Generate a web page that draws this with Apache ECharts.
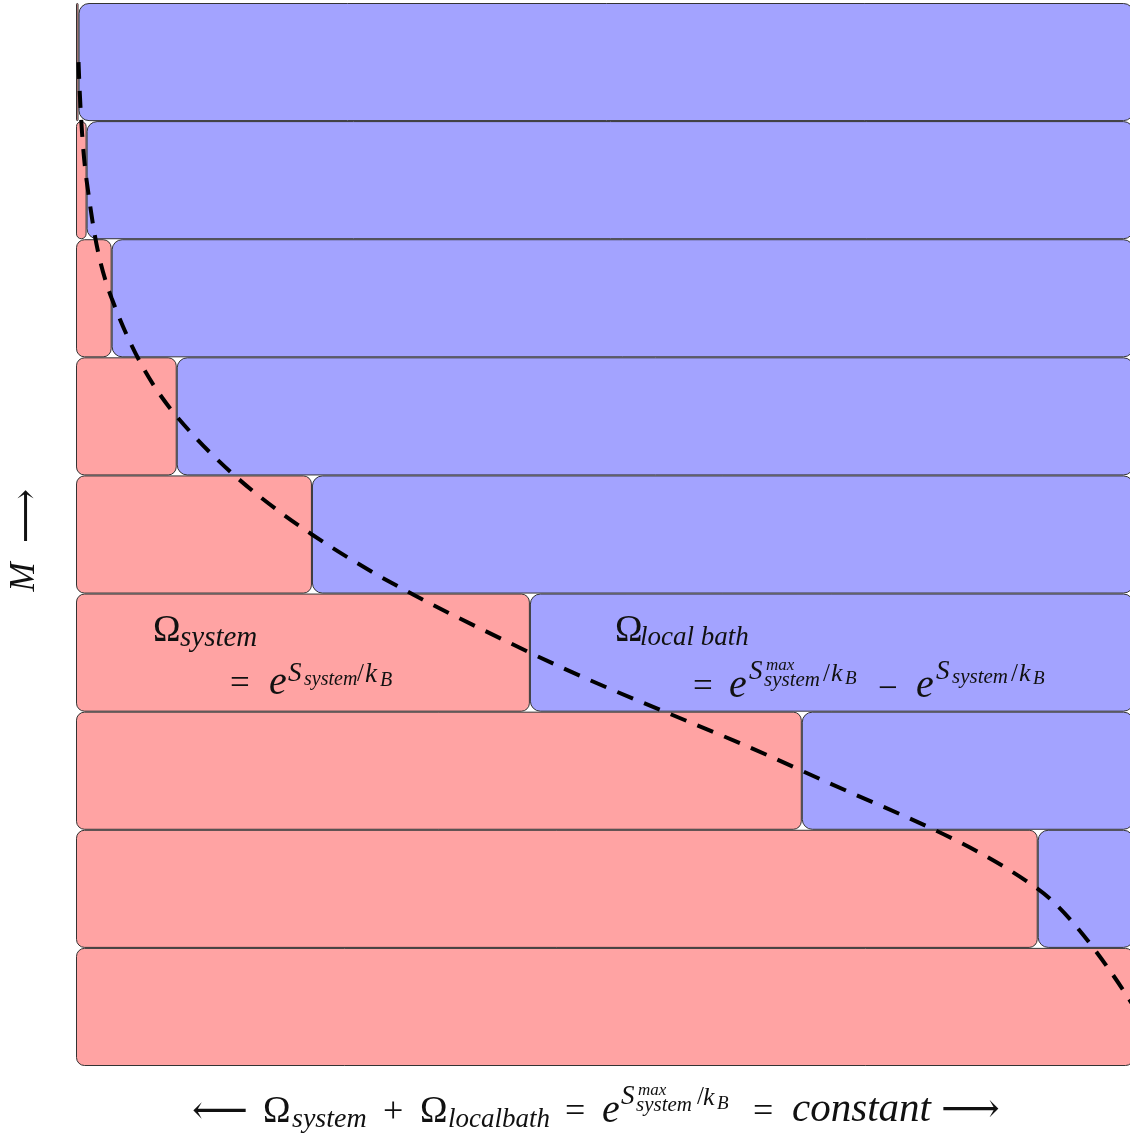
<!DOCTYPE html>
<html>
<head>
<meta charset="utf-8">
<title>System and local bath microstates</title>
<script src="https://cdn.jsdelivr.net/npm/echarts@6/dist/echarts.min.js"></script>
<style>
  html, body { margin: 0; padding: 0; background: #ffffff; }
  #chart { width: 1130px; height: 1138px; }
</style>
</head>
<body>
<div id="chart"></div>
<script>
// Magnetisation levels, top row first
const levels = ['M1', 'M2', 'M3', 'M4', 'M5', 'M6', 'M7', 'M8', 'M9'];
// Share of the constant total held by the system (red), in percent
const systemShare = [0.24, 1.0, 3.37, 9.52, 22.3, 42.9, 68.6, 90.9, 100];
// Share held by the local bath (blue), in percent
const bathShare = [99.76, 99.0, 96.63, 90.48, 77.7, 57.1, 31.4, 9.1, 0];

const SERIF = '"Liberation Serif", "DejaVu Serif", serif';
const INK = '#111111';

// Formula pieces: [text, left x, baseline y, font size, italic]
const formulaPieces = [
  // bottom caption
  ['\u27F5', 192, 1124, 39, false],
  ['\u03A9', 263, 1123, 37, false],
  ['system', 292, 1128, 28, true],
  ['+', 383, 1123, 36, false],
  ['\u03A9', 420, 1123, 37, false],
  ['localbath', 448, 1128, 27, true],
  ['=', 565, 1123, 36, false],
  ['e', 602, 1123, 40, true],
  ['S', 621, 1105, 27, true],
  ['max', 638, 1096, 17, true],
  ['system', 636, 1112, 21, true],
  ['/', 697, 1105, 25, false],
  ['k', 703, 1106, 26, true],
  ['B', 717, 1110, 19, true],
  ['=', 753, 1123, 36, false],
  ['constant', 792, 1123, 41, true],
  ['\u27F6', 941, 1124, 41, false],
  // system label
  ['\u03A9', 153, 642, 37, false],
  ['system', 180, 647, 29, true],
  ['=', 230, 695, 35, false],
  ['e', 269, 695, 40, true],
  ['S', 288, 682, 27, true],
  ['system', 304, 686, 20, true],
  ['/', 357, 682, 25, false],
  ['k', 365, 683, 27, true],
  ['B', 380, 687, 20, true],
  // local bath label
  ['\u03A9', 615, 642, 37, false],
  ['local bath', 640, 646, 27, true],
  ['=', 693, 698, 35, false],
  ['e', 729, 698, 40, true],
  ['S', 749, 680, 27, true],
  ['max', 766, 671, 17, true],
  ['system', 764, 687, 21, true],
  ['/', 823, 682, 25, false],
  ['k', 831, 682, 26, true],
  ['B', 845, 685, 19, true],
  ['\u2212', 878, 700, 35, false],
  ['e', 916, 698, 40, true],
  ['S', 936, 680, 27, true],
  ['system', 952, 684, 21, true],
  ['/', 1011, 682, 25, false],
  ['k', 1019, 682, 26, true],
  ['B', 1033, 685, 19, true]
];

function textPiece(p) {
  const [txt, x, base, size, italic] = p;
  return {
    type: 'text',
    x: x,
    y: base - 0.3 * size,
    z: 100,
    silent: true,
    style: {
      text: txt,
      font: (italic ? 'italic ' : '') + size + 'px ' + SERIF,
      fill: INK,
      align: 'left',
      verticalAlign: 'middle'
    }
  };
}

const graphics = formulaPieces.map(textPiece);

// vertical axis caption "M ⟶", reading upwards
graphics.push({
  type: 'text', x: 25, y: 577, rotation: Math.PI / 2, silent: true,
  style: { text: 'M', font: 'italic 35px ' + SERIF, fill: INK, align: 'center', verticalAlign: 'middle' }
});
graphics.push({
  type: 'text', x: 28, y: 516, rotation: Math.PI / 2, silent: true,
  style: { text: '\u27F6', font: '38px ' + SERIF, fill: INK, align: 'center', verticalAlign: 'middle' }
});

const chart = echarts.init(document.getElementById('chart'), null, { renderer: 'canvas' });

chart.setOption({
  animation: false,
  backgroundColor: '#ffffff',
  // the plot runs a few pixels past the right edge of the page
  grid: { left: 76, top: 3, width: 1058, height: 1063, outerBoundsMode: 'none' },
  xAxis: {
    type: 'value', min: 0, max: 100,
    show: false
  },
  yAxis: {
    type: 'category', data: levels, inverse: true,
    show: false
  },
  series: [
    {
      name: 'system',
      type: 'bar',
      stack: 'total',
      data: systemShare,
      barCategoryGap: 0,
      itemStyle: {
        color: '#FFA3A3',
        borderColor: '#333333',
        borderWidth: 1,
        borderRadius: 8
      }
    },
    {
      name: 'local bath',
      type: 'bar',
      stack: 'total',
      data: bathShare,
      barCategoryGap: 0,
      itemStyle: {
        color: '#A3A3FF',
        borderColor: '#333333',
        borderWidth: 1,
        borderRadius: 10
      }
    },
    {
      name: 'boundary',
      type: 'line',
      data: systemShare.map((v, i) => [v, i]),
      smooth: 0.35,
      showSymbol: false,
      symbol: 'none',
      z: 10,
      lineStyle: { color: '#000000', width: 4, type: [17, 12] }
    }
  ],
  graphic: graphics
});
</script>
</body>
</html>
